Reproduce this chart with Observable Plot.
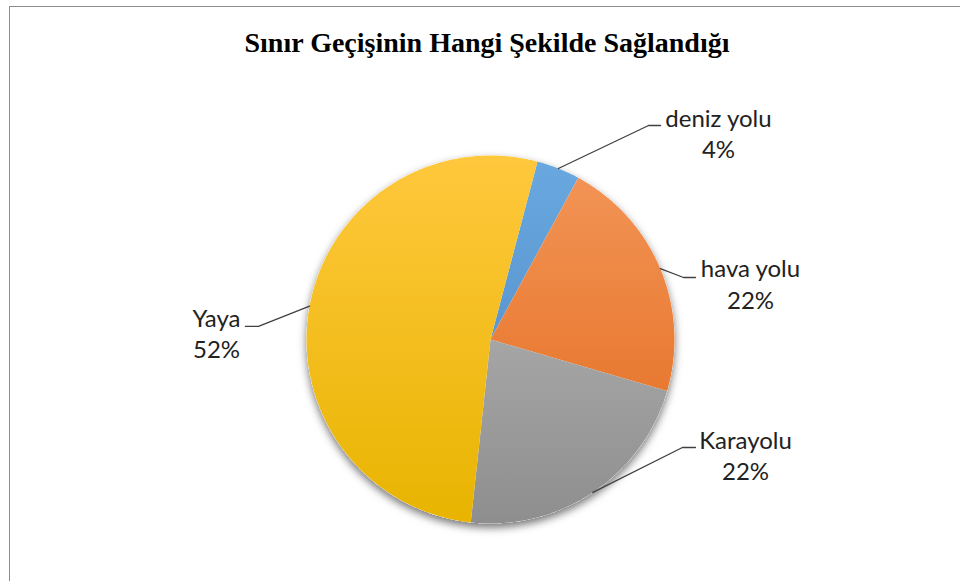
<!DOCTYPE html>
<html>
<head>
<meta charset="utf-8">
<script src="https://cdn.jsdelivr.net/npm/d3@7"></script>
<script src="https://cdn.jsdelivr.net/npm/@observablehq/plot@0.6"></script>
<style>
  html, body { margin: 0; padding: 0; background: #fff; }
  #wrap { position: relative; width: 960px; height: 581px; overflow: hidden; }
  #frame { position: absolute; left: 9px; top: 6px; width: 960px; height: 600px;
           border-top: 1px solid #8c8c8c; border-left: 1px solid #8c8c8c; pointer-events: none; }
  #title { position: absolute; left: 0; width: 974px; top: 29px; text-align: center;
           font-family: "Liberation Serif", "Times New Roman", serif; font-weight: bold;
           font-size: 28px; line-height: 28px; color: #000; }
  #chart { position: absolute; left: 0; top: 0; }
</style>
</head>
<body>
<div id="wrap">
  <div id="chart"></div>
  <div id="frame"></div>
  <div id="title">Sınır  Geçişinin Hangi Şekilde Sağlandığı</div>
</div>
<script>
// ---- data ----
const categories = ["deniz yolu", "hava yolu", "Karayolu", "Yaya"];
const shares = [3.8, 21.6, 22.2, 52.4];
const colorTop = ["#6aa8e0", "#f39659", "#bdbdbd", "#ffc83d"];
const colorBottom = ["#4a86c0", "#e2691a", "#8e8e8e", "#e8b400"];

// ---- layout (pie units: radius = 1) ----
const startDeg = 14.8;
const labelLayout = [
  {elbow: [0.859, 1.163], end: [0.924, 1.163], text: [1.239, 0.984]},
  {elbow: [1.049, 0.337], end: [1.114, 0.337], text: [1.413, 0.168]},
  {elbow: [1.043, -0.587], end: [1.114, -0.587], text: [1.386, -0.766]},
  {elbow: [-1.261, 0.071], end: [-1.332, 0.071], text: [-1.489, -0.103]}
];

const rows = categories.map((c, i) => ({label: c, share: shares[i], i}));
const a0 = startDeg * Math.PI / 180;
const arcs = d3.pie().sort(null).value(d => d.share).startAngle(a0).endAngle(a0 + 2 * Math.PI)(rows);

function arcPoints(s, e, label) {
  const pts = [{x: 0, y: 0, label}];
  const n = Math.max(2, Math.ceil((e - s) / (Math.PI / 360)));
  for (let k = 0; k <= n; k++) {
    const a = s + (e - s) * k / n;
    pts.push({x: Math.sin(a), y: Math.cos(a), label});
  }
  return pts;
}

const slicePts = arcs.map(a => arcPoints(a.startAngle, a.endAngle, a.data.label));
const circlePts = arcPoints(a0, a0 + 2 * Math.PI, "all").slice(1);

const leaderPts = [];
const labelRows = [];
arcs.forEach((a, i) => {
  const m = (a.startAngle + a.endAngle) / 2;
  const L = labelLayout[i];
  leaderPts.push({label: a.data.label, x: Math.sin(m), y: Math.cos(m)});
  leaderPts.push({label: a.data.label, x: L.elbow[0], y: L.elbow[1]});
  leaderPts.push({label: a.data.label, x: L.end[0], y: L.end[1]});
  labelRows.push({x: L.text[0], y: L.text[1], text: a.data.label + "\n" + Math.round(a.data.share) + "%"});
});

const chart = Plot.plot({
  width: 960,
  height: 581,
  margin: 0,
  x: {domain: [-1, 1], range: [306, 674], axis: null},
  y: {domain: [-1, 1], range: [523, 155], axis: null},
  style: {background: "transparent"},
  marks: [
    Plot.line(circlePts, {x: "x", y: "y", fill: "#ffffff", stroke: "none", curve: "linear-closed"}),
    ...slicePts.map((pts, i) => Plot.line(pts, {x: "x", y: "y", fill: `url(#grad${i})`, stroke: "none", curve: "linear-closed"})),
    Plot.line(leaderPts, {x: "x", y: "y", z: "label", stroke: "#404040", strokeWidth: 1.3}),
    Plot.text(labelRows, {x: "x", y: "y", text: "text", lineAnchor: "bottom", lineHeight: 1.32,
      fontSize: 24, fontFamily: "Lato, 'Liberation Sans', sans-serif", fill: "#222222", textAnchor: "middle"})
  ]
});

// gradients + shadow filter
const yTop = chart.scale("y").apply(1), yBot = chart.scale("y").apply(-1);
const svg = d3.select(chart);
const defs = svg.insert("defs", ":first-child");
categories.forEach((c, i) => {
  const g = defs.append("linearGradient").attr("id", `grad${i}`)
    .attr("gradientUnits", "userSpaceOnUse").attr("x1", 0).attr("x2", 0).attr("y1", yTop).attr("y2", yBot);
  g.append("stop").attr("offset", "0%").attr("stop-color", colorTop[i]);
  g.append("stop").attr("offset", "100%").attr("stop-color", colorBottom[i]);
});
const f = defs.append("filter").attr("id", "pieShadow").attr("x", "-20%").attr("y", "-20%").attr("width", "140%").attr("height", "140%");
f.append("feDropShadow").attr("dx", 0).attr("dy", 4).attr("stdDeviation", 4).attr("flood-color", "#000").attr("flood-opacity", 0.55);
const lineGroups = chart.querySelectorAll('g[aria-label="line"]');
lineGroups[0].setAttribute("filter", "url(#pieShadow)");

document.getElementById("chart").appendChild(chart);
</script>
</body>
</html>
